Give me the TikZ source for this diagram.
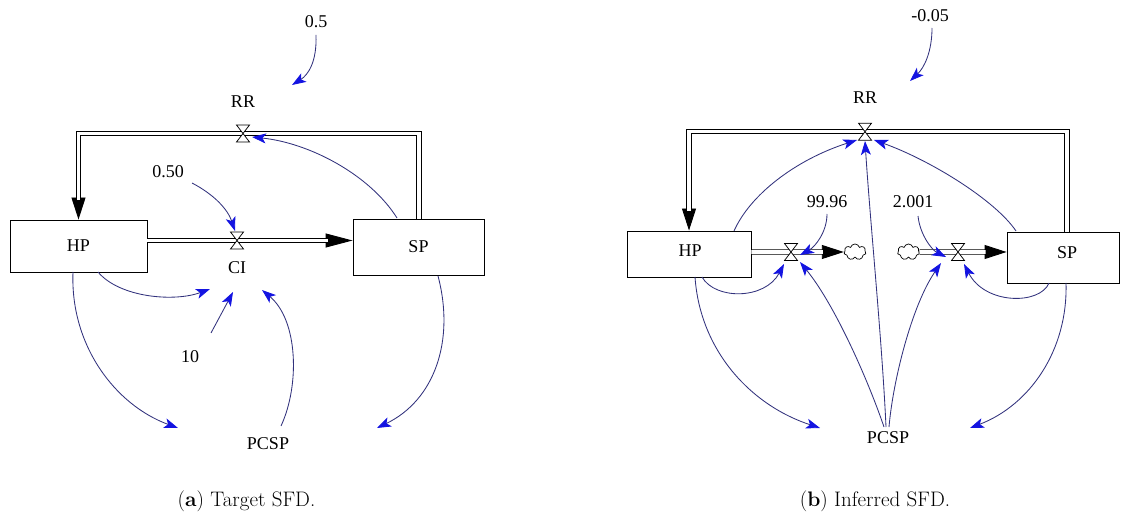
\documentclass[tikz,border=0pt]{standalone}
\usepackage{fontspec}
\newfontfamily\sfdfont{Liberation Serif}
\usetikzlibrary{arrows.meta,shapes.symbols}
\definecolor{linkc}{RGB}{50,50,125}
\definecolor{tipc}{RGB}{20,20,225}
\begin{document}
\begin{tikzpicture}[x=1pt,y=-1pt,
  lbl/.style={font=\sfdfont\fontsize{18}{20}\selectfont, inner sep=0pt},
  stock/.style={draw, fill=white, line width=0.9pt, inner sep=0pt, font=\sfdfont\fontsize{18}{20}\selectfont},
  pipe/.style={draw=black, double=white, double distance=3.6pt, line width=0.9pt},
  tipbig/.style={line width=0.9pt, -{Triangle[length=27pt,width=14pt]}},
  tipmid/.style={line width=0.9pt, -{Triangle[length=22pt,width=14pt]}},
  link/.style={draw=linkc, line width=0.85pt, -{Stealth[length=14pt,width=10pt,inset=3.5pt,color=tipc]}},
  vnode/.style={inner sep=0pt, minimum width=13pt, minimum height=17pt},
  cloudn/.style={cloud, draw, fill=white, cloud puffs=7, aspect=1.4, minimum width=22pt, minimum height=16pt, inner sep=0pt, line width=0.7pt},
  capt/.style={font=\fontsize{21}{25}\selectfont, anchor=base, inner sep=0pt},
  vlv/.pic={\draw[fill=white, line width=0.75pt] (-6.5,-8.5) -- (6.5,-8.5) -- (-6.5,8.5) -- (6.5,8.5) -- cycle;}
]
\useasboundingbox (0,0) rectangle (1121,518);

% ---------------- (a) Target SFD ----------------
\node[stock, minimum width=137pt, minimum height=52pt] (aHP) at (78.5,246) {HP};
\node[stock, minimum width=131pt, minimum height=56pt] (aSP) at (418.5,247) {SP};
\node[vnode] (aRR) at (243,133.5) {};
\node[vnode] (aCIv) at (237,240.5) {};

% pipes
\draw[tipmid] (aHP.north |- aRR) -- (aHP.north);
\draw[pipe, shorten >=20pt] ([xshift=0.5pt]aSP.north) |- (aRR.center) -| (aHP.north);
\draw[tipbig] (aHP.east |- aCIv) -- (aSP.west |- aCIv);
\draw[pipe, shorten >=25pt] (aHP.east |- aCIv) -- (aSP.west |- aCIv);
\pic at (aRR) {vlv};
\pic at (aCIv) {vlv};

% labels
\node[lbl] (a05) at (316,22) {0.5};
\node[lbl] (aRRl) at (243,102) {RR};
\node[lbl] (aCI) at (237,268) {CI};
\node[lbl] (a050) at (168,172) {0.50};
\node[lbl] (a10) at (190,357) {10};
\node[lbl] (aPCSP) at (268,443.5) {PCSP};

% link end points
\coordinate (a1s) at (316,35);  \coordinate (a1e) at (292,85);
\coordinate (a2s) at (192,183); \coordinate (a2e) at (235,231);
\coordinate (a3s) at (397,218); \coordinate (a3e) at (252,137);
\coordinate (a4s) at (98,272);  \coordinate (a4e) at (210,289);
\coordinate (a5s) at (211,333); \coordinate (a5e) at (233,292);
\coordinate (a6s) at (281,426); \coordinate (a6e) at (262,290);
\coordinate (a7s) at (73,272);  \coordinate (a7e) at (178,428);
\coordinate (a8s) at (438,276); \coordinate (a8e) at (377,428);

\draw[link] (a1s) .. controls (317,62) and (308,75) .. (a1e);
\draw[link] (a2s) .. controls (215,195) and (228,210) .. (a2e);
\draw[link] (a3s) .. controls (370,175) and (310,143) .. (a3e);
\draw[link] (a4s) .. controls (120,298) and (175,302) .. (a4e);
\draw[link] (a5s) -- (a5e);
\draw[link] (a6s) .. controls (300,385) and (298,320) .. (a6e);
\draw[link] (a7s) .. controls (70,345) and (115,405) .. (a7e);
\draw[link] (a8s) .. controls (455,340) and (435,400) .. (a8e);

% ---------------- (b) Inferred SFD ----------------
\node[stock, minimum width=124pt, minimum height=46pt] (bHP) at (689,254) {};
\node[lbl] (bHPt) at (690,251) {HP};
\node[stock, minimum width=112pt, minimum height=51pt] (bSP) at (1063,257.5) {};
\node[lbl] (bSPt) at (1067,253) {SP};
\node[vnode] (bRR) at (865,131.7) {};
\node[vnode] (bV1) at (791,252) {};
\node[vnode] (bV2) at (958,252) {};
\node[cloudn] (bC1) at (855,252) {};
\node[cloudn] (bC2) at (908.5,252) {};

\draw[tipmid] (bHP.north |- bRR) -- (bHP.north);
\draw[pipe, shorten >=20pt] ([xshift=4pt]bSP.north) |- (bRR.center) -| (bHP.north);
\draw[tipmid] (bHP.east |- bV1) -- (bC1.west);
\draw[pipe, shorten >=21pt] (bHP.east |- bV1) -- (bC1.west);
\draw[tipmid] (bC2.east) -- (bSP.west |- bV2);
\draw[pipe, shorten >=21pt] (bC2.east) -- (bSP.west |- bV2);
\pic at (bRR) {vlv};
\pic at (bV1) {vlv};
\pic at (bV2) {vlv};

\node[lbl] (b005) at (930,15.5) {-0.05};
\node[lbl] (bRRl) at (865,98) {RR};
\node[lbl] (b9996) at (827,202) {99.96};
\node[lbl] (b2001) at (913,202) {2.001};
\node[lbl] (bPCSP) at (888,438) {PCSP};

\coordinate (b1s) at (932,28);    \coordinate (b1e) at (910,81);
\coordinate (b2s) at (827,214);   \coordinate (b2e) at (800,255);
\coordinate (b3s) at (918,216);   \coordinate (b3e) at (946,257);
\coordinate (b4s) at (734,231);   \coordinate (b4e) at (857,140);
\coordinate (b5s) at (1016,231);  \coordinate (b5e) at (874,140);
\coordinate (b6s) at (886,427);   \coordinate (b6e) at (865,141);
\coordinate (b7s) at (884,427);   \coordinate (b7e) at (800,262);
\coordinate (b8s) at (889,427);   \coordinate (b8e) at (941,263);
\coordinate (b9s) at (702,277);   \coordinate (b9e) at (784,264);
\coordinate (b10s) at (1049,283); \coordinate (b10e) at (964,264);
\coordinate (b11s) at (695,277);  \coordinate (b11e) at (820,428);
\coordinate (b12s) at (1066,283); \coordinate (b12e) at (970,428);

\draw[link] (b1s) .. controls (932,52) and (924,68) .. (b1e);
\draw[link] (b2s) .. controls (827,232) and (815,247) .. (b2e);
\draw[link] (b3s) .. controls (920,235) and (932,250) .. (b3e);
\draw[link] (b4s) .. controls (750,195) and (795,160) .. (b4e);
\draw[link] (b5s) .. controls (995,200) and (930,160) .. (b5e);
\draw[link] (b6s) .. controls (882,340) and (870,220) .. (b6e);
\draw[link] (b7s) .. controls (868,380) and (835,305) .. (b7e);
\draw[link] (b8s) .. controls (893,380) and (912,305) .. (b8e);
\draw[link] (b9s) .. controls (715,300) and (765,300) .. (b9e);
\draw[link] (b10s) .. controls (1040,305) and (985,305) .. (b10e);
\draw[link] (b11s) .. controls (700,350) and (750,405) .. (b11e);
\draw[link] (b12s) .. controls (1068,350) and (1030,405) .. (b12e);

% captions
\node[capt] (capA) at (246.5,506) {(\textbf{a}) Target SFD.};
\node[capt] (capB) at (875,506) {(\textbf{b}) Inferred SFD.};
\end{tikzpicture}
\end{document}
